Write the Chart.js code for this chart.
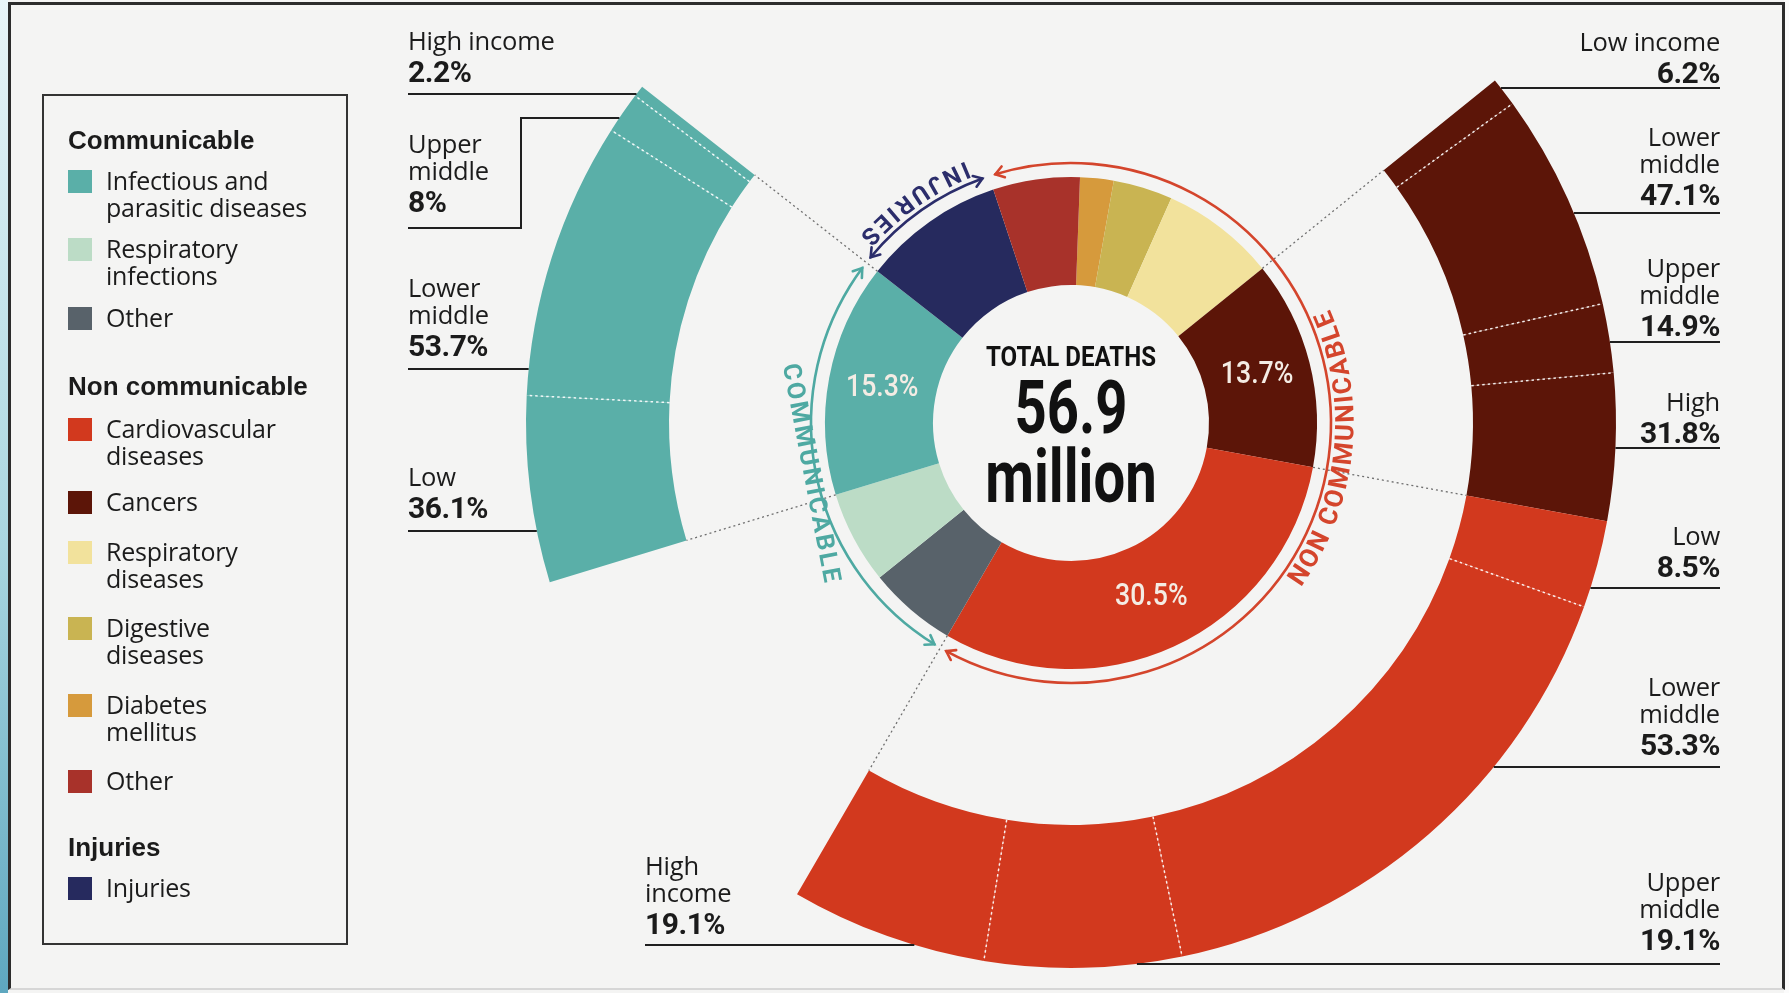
<!DOCTYPE html>
<html>
<head>
<meta charset="utf-8">
<title>Total deaths 56.9 million</title>
<script src="https://cdn.jsdelivr.net/npm/chart.js@4.4.1/dist/chart.umd.min.js"></script>
<style>
  html, body { margin: 0; padding: 0; }
  body {
    width: 1789px; height: 993px; overflow: hidden; position: relative;
    background: #f4f4f3; color: #1b1b1b;
    font-family: "Open Sans", "Liberation Sans", Arial, sans-serif;
  }
  #strip { position: absolute; left: 0; top: 0; width: 8px; height: 993px;
    background: linear-gradient(#e9f5f8, #a9d6e0 55%, #5ea7bf); }
  #rightEdge { position: absolute; right: 0; top: 0; width: 5px; height: 993px; background: #fbfbfb; }
  #frame { position: absolute; left: 8px; top: 2px; width: 1777px; height: 988px;
    box-sizing: border-box; border: 3px solid #2c2c2c; border-bottom: 2px solid #d6d6d6; }
  #wrap { position: absolute; left: 0; top: -122px; width: 1789px; height: 1115px; }
  #legend { position: absolute; left: 42px; top: 94px; width: 306px; height: 851px;
    box-sizing: border-box; border: 2px solid #333; }
  .head { position: absolute; font-family: "Liberation Sans", Arial, sans-serif;
    font-weight: bold; font-size: 26px; line-height: 30px; }
  .item { position: absolute; font-size: 25px; line-height: 27px; letter-spacing: -0.2px; }
  .sw { position: absolute; width: 24px; height: 23px; }
  .lab { position: absolute; font-size: 25.5px; line-height: 27px; white-space: nowrap; letter-spacing: -0.2px; }
  .lab .pct { font-family: Roboto, "Liberation Sans", sans-serif; font-weight: bold;
    font-size: 30px; line-height: 36px; letter-spacing: -0.5px; }
  .ctr { position: absolute; left: 871px; width: 400px; text-align: center;
    font-family: Roboto, "Liberation Sans", sans-serif; font-weight: bold; color: #111; }
</style>
</head>
<body>
<div id="strip"></div>
<div id="rightEdge"></div>
<div id="frame"></div>
<div id="wrap"><canvas id="chart" width="1789" height="1115"></canvas></div>
<div id="legend"></div>
<div id="labels"></div>
<div class="ctr" style="top:341px;font-size:28px;line-height:32px;transform:scaleX(0.86);">TOTAL DEATHS</div>
<div class="ctr" style="top:368px;font-size:74px;line-height:80px;transform:scaleX(0.76);">56.9</div>
<div class="ctr" style="top:437px;font-size:74px;line-height:80px;transform:scaleX(0.76);">million</div>

<script>
// share of all deaths (%), clockwise from the top
const categories = ['Diabetes mellitus', 'Digestive diseases', 'Respiratory diseases', 'Cancers',
  'Cardiovascular diseases', 'Other communicable', 'Respiratory infections',
  'Infectious and parasitic diseases', 'Injuries', 'Other non communicable'];
const shares = [2.2, 3.9, 7.5, 13.7, 30.5, 5.8, 6.1, 15.3, 9.3, 5.7];
const colors = ['#d69a3c', '#c9b452', '#f2e29c', '#5c1508', '#d2391e', '#58626a',
  '#bcdcc6', '#5aafa8', '#262a5e', '#a8322a'];
const labelled = [3, 4, 7];

// income breakdowns (% of each cause), clockwise
const cancerIncomeLabels = ['Low income', 'Lower middle', 'Upper middle', 'High'];
const cancerIncome = [6.2, 47.1, 14.9, 31.8];
const cardioIncomeLabels = ['Low', 'Lower middle', 'Upper middle', 'High income'];
const cardioIncome = [8.5, 53.3, 19.1, 19.1];
const infectiousIncomeLabels = ['Low', 'Lower middle', 'Upper middle', 'High income'];
const infectiousIncome = [36.1, 53.7, 8, 2.2];

const OFFSET = 122; // canvas top sits above the page

const breakdowns = { 3: cancerIncome, 4: cardioIncome, 7: infectiousIncome };
const outerValues = [], outerColors = [], outerParent = [];
shares.forEach((v, i) => {
  const b = breakdowns[i];
  if (b) {
    b.forEach(s => { outerValues.push(v * s / 100); outerColors.push(colors[i]); outerParent.push(i); });
  } else {
    outerValues.push(v); outerColors.push('rgba(0,0,0,0)'); outerParent.push(-1);
  }
});
const total = shares.reduce((a, b) => a + b, 0);

// legend
const legendRows = [
  { head: 'Communicable', y: 139 },
  { idx: 7, lines: ['Infectious and', 'parasitic diseases'], y: 180 },
  { idx: 6, lines: ['Respiratory', 'infections'], y: 248 },
  { idx: 5, lines: ['Other'], y: 317 },
  { head: 'Non communicable', y: 385 },
  { idx: 4, lines: ['Cardiovascular', 'diseases'], y: 428 },
  { idx: 3, lines: ['Cancers'], y: 501 },
  { idx: 2, lines: ['Respiratory', 'diseases'], y: 551 },
  { idx: 1, lines: ['Digestive', 'diseases'], y: 627 },
  { idx: 0, lines: ['Diabetes', 'mellitus'], y: 704 },
  { idx: 9, lines: ['Other'], y: 780 },
  { head: 'Injuries', y: 846 },
  { idx: 8, lines: ['Injuries'], y: 887 }
];
let html = '';
legendRows.forEach(r => {
  const y = r.y - 94;
  if (r.head) {
    html += `<div class="head" style="left:24px;top:${y - 16}px">${r.head}</div>`;
  } else {
    html += `<div class="sw" style="left:24px;top:${y - 12}px;background:${colors[r.idx]}"></div>`;
    html += `<div class="item" style="left:62px;top:${y - 15}px">${r.lines.join('<br>')}</div>`;
  }
});
document.getElementById('legend').innerHTML = html;

// income label layout (page px); g = distance from % line centre to leader line
const labelLayout = [
  { names: infectiousIncomeLabels, vals: infectiousIncome, i: 3, x: 408, side: 'L', lineY: 94, g: 22, wrap: false },
  { names: infectiousIncomeLabels, vals: infectiousIncome, i: 2, x: 408, side: 'L', lineY: 228, g: 26, wrap: true, bx: 521, by: 118 },
  { names: infectiousIncomeLabels, vals: infectiousIncome, i: 1, x: 408, side: 'L', lineY: 369, g: 23, wrap: true },
  { names: infectiousIncomeLabels, vals: infectiousIncome, i: 0, x: 408, side: 'L', lineY: 531, g: 23, wrap: false },
  { names: cancerIncomeLabels, vals: cancerIncome, i: 0, x: 1720, side: 'R', lineY: 88, g: 15, wrap: false },
  { names: cancerIncomeLabels, vals: cancerIncome, i: 1, x: 1720, side: 'R', lineY: 213, g: 18, wrap: true },
  { names: cancerIncomeLabels, vals: cancerIncome, i: 2, x: 1720, side: 'R', lineY: 342, g: 16, wrap: true },
  { names: cancerIncomeLabels, vals: cancerIncome, i: 3, x: 1720, side: 'R', lineY: 448, g: 15, wrap: false },
  { names: cardioIncomeLabels, vals: cardioIncome, i: 0, x: 1720, side: 'R', lineY: 588, g: 21, wrap: false },
  { names: cardioIncomeLabels, vals: cardioIncome, i: 1, x: 1720, side: 'R', lineY: 767, g: 22, wrap: true },
  { names: cardioIncomeLabels, vals: cardioIncome, i: 2, x: 1720, side: 'R', lineY: 964, g: 24, wrap: true },
  { names: cardioIncomeLabels, vals: cardioIncome, i: 3, x: 645, side: 'L', lineY: 945, g: 21, wrap: true }
];
html = '';
labelLayout.forEach(l => {
  const name = l.names[l.i];
  const words = l.wrap ? name.split(' ') : [name];
  const h = words.length * 27 + 36;
  const top = l.lineY - l.g + 18 - h;
  const pos = l.side === 'L' ? `left:${l.x}px;text-align:left` : `right:${1789 - l.x}px;text-align:right`;
  html += `<div class="lab" style="${pos};top:${top}px">${words.join('<br>')}<div class="pct">${l.vals[l.i]}%</div></div>`;
});
document.getElementById('labels').innerHTML = html;

function drawCurved(ctx, text, cx, cy, r, mid, len, font, color) {
  ctx.save();
  ctx.font = font; ctx.fillStyle = color;
  ctx.textAlign = 'center'; ctx.textBaseline = 'middle';
  const chars = [...text];
  const ws = chars.map(c => ctx.measureText(c).width);
  const gap = (len - ws.reduce((a, b) => a + b, 0)) / (chars.length - 1);
  let off = -len / 2;
  chars.forEach((c, k) => {
    const a = mid - (off + ws[k] / 2) / r;
    ctx.save();
    ctx.translate(cx + r * Math.cos(a), cy + r * Math.sin(a));
    ctx.rotate(a - Math.PI / 2);
    ctx.fillText(c, 0, 0);
    ctx.restore();
    off += ws[k] + gap;
  });
  ctx.restore();
}

function drawStraight(ctx, text, x, y, rot, len, font, color) {
  ctx.save();
  ctx.font = font; ctx.fillStyle = color;
  ctx.textAlign = 'center'; ctx.textBaseline = 'middle';
  ctx.translate(x, y); ctx.rotate(rot);
  const chars = [...text];
  const ws = chars.map(c => ctx.measureText(c).width);
  const gap = (len - ws.reduce((a, b) => a + b, 0)) / (chars.length - 1);
  let off = -len / 2;
  chars.forEach((c, k) => { ctx.fillText(c, off + ws[k] / 2, 0); off += ws[k] + gap; });
  ctx.restore();
}

function arrowArc(ctx, cx, cy, r, a1, a2, color) {
  ctx.save();
  ctx.strokeStyle = color; ctx.lineWidth = 2.6; ctx.lineCap = 'round';
  ctx.beginPath(); ctx.arc(cx, cy, r, a1, a2, false); ctx.stroke();
  const head = (a, dir) => {
    const tx = cx + r * Math.cos(a), ty = cy + r * Math.sin(a);
    const dx = -Math.sin(a) * dir, dy = Math.cos(a) * dir;
    const L = 10, s = 0.6;
    ctx.beginPath();
    ctx.moveTo(tx - L * (dx * Math.cos(s) - dy * Math.sin(s)), ty - L * (dy * Math.cos(s) + dx * Math.sin(s)));
    ctx.lineTo(tx, ty);
    ctx.lineTo(tx - L * (dx * Math.cos(-s) - dy * Math.sin(-s)), ty - L * (dy * Math.cos(-s) + dx * Math.sin(-s)));
    ctx.stroke();
  };
  head(a1, -1);
  head(a2, 1);
  ctx.restore();
}

const decor = {
  id: 'decor',
  afterDatasetsDraw(chart) {
    const ctx = chart.ctx;
    const inner = chart.getDatasetMeta(2).data;
    const outer = chart.getDatasetMeta(0).data;
    const cx = inner[0].x, cy = inner[0].y;
    const R1 = inner[0].outerRadius, R2 = outer[0].innerRadius, R3 = outer[0].outerRadius;
    const ray = (a, r0, r1) => {
      ctx.beginPath();
      ctx.moveTo(cx + r0 * Math.cos(a), cy + r0 * Math.sin(a));
      ctx.lineTo(cx + r1 * Math.cos(a), cy + r1 * Math.sin(a));
      ctx.stroke();
    };

    // grey dotted links from the inner ring to the breakdown rings
    ctx.save();
    ctx.strokeStyle = '#6f6f6f'; ctx.lineWidth = 1.3; ctx.setLineDash([2, 3]);
    [inner[3].startAngle, inner[4].startAngle, inner[4].endAngle, inner[7].startAngle, inner[7].endAngle]
      .forEach(a => ray(a, R1, R2));
    ctx.restore();

    // white dotted separators inside the breakdown rings
    ctx.save();
    ctx.strokeStyle = 'rgba(255,255,255,0.9)'; ctx.lineWidth = 1.5; ctx.setLineDash([2.5, 3]);
    outer.forEach((arc, k) => {
      if (k > 0 && outerParent[k] >= 0 && outerParent[k] === outerParent[k - 1]) ray(arc.startAngle, R2, R3);
    });
    ctx.restore();

    // group arrows and names
    const ins = 1.5 * Math.PI / 180;
    const rA = R1 + 14;
    const commA = inner[5].startAngle, commB = inner[7].endAngle;
    const injA = inner[8].startAngle, injB = inner[8].endAngle;
    const ncdA = inner[9].startAngle, ncdB = inner[4].endAngle + 2 * Math.PI;
    arrowArc(ctx, cx, cy, rA, commA + ins, commB - ins, '#4ea9a2');
    arrowArc(ctx, cx, cy, rA, injA + ins, injB - ins, '#2b2d6b');
    arrowArc(ctx, cx, cy, rA, ncdA + ins, ncdB - ins, '#d4452c');

    drawCurved(ctx, 'INJURIES', cx, cy, R1 + 30, (injA + injB) / 2, 128, 'bold 24px Roboto', '#2b2d6b');
    drawCurved(ctx, 'NON COMMUNICABLE', cx, cy, R1 + 30, (ncdA + ncdB) / 2, 286, 'bold 26px Roboto', '#d4452c');
    const cm = (commA + commB) / 2, rc = R1 + 20;
    drawStraight(ctx, 'COMMUNICABLE', cx + rc * Math.cos(cm), cy + rc * Math.sin(cm), cm - Math.PI / 2,
      222, 'bold 25px Roboto', '#4ea9a2');

    // share labels inside the inner ring
    ctx.save();
    ctx.fillStyle = '#f4ece4'; ctx.font = '500 31px Roboto';
    ctx.textAlign = 'center'; ctx.textBaseline = 'middle';
    labelled.forEach(i => {
      const p = inner[i].tooltipPosition();
      ctx.save(); ctx.translate(p.x, p.y); ctx.scale(0.86, 1);
      ctx.fillText(shares[i] + '%', 0, 0);
      ctx.restore();
    });
    ctx.restore();

    // leader lines to the income labels
    ctx.save();
    ctx.strokeStyle = '#1f1f1f'; ctx.lineWidth = 2;
    const edgeX = (y, side) => {
      const dy = y - cy;
      const dx = Math.sqrt(Math.max(R3 * R3 - dy * dy, 0));
      return side === 'L' ? cx - dx : cx + dx;
    };
    labelLayout.forEach(l => {
      const y = l.lineY + OFFSET;
      ctx.beginPath();
      if (l.bx) {
        const ty = l.by + OFFSET;
        ctx.moveTo(l.x, y); ctx.lineTo(l.bx, y); ctx.lineTo(l.bx, ty); ctx.lineTo(edgeX(ty, 'L'), ty);
      } else if (l.side === 'L') {
        ctx.moveTo(l.x, y); ctx.lineTo(edgeX(y, 'L'), y);
      } else {
        ctx.moveTo(edgeX(y, 'R'), y); ctx.lineTo(l.x, y);
      }
      ctx.stroke();
    });
    ctx.restore();
  }
};

new Chart(document.getElementById('chart'), {
  type: 'doughnut',
  data: {
    labels: categories,
    datasets: [
      { data: outerValues, backgroundColor: outerColors, borderWidth: 0, weight: 143 },
      { data: [total], backgroundColor: ['rgba(0,0,0,0)'], borderWidth: 0, weight: 156 },
      { data: shares, backgroundColor: colors, borderWidth: 0, weight: 108 }
    ]
  },
  options: {
    responsive: false,
    animation: false,
    events: [],
    rotation: 2.1,
    cutout: 138,
    hoverOffset: 0,
    layout: { padding: { left: 526, right: 173, top: 0, bottom: 25 } },
    plugins: { legend: { display: false }, tooltip: { enabled: false } }
  },
  plugins: [decor]
});
</script>
</body>
</html>
